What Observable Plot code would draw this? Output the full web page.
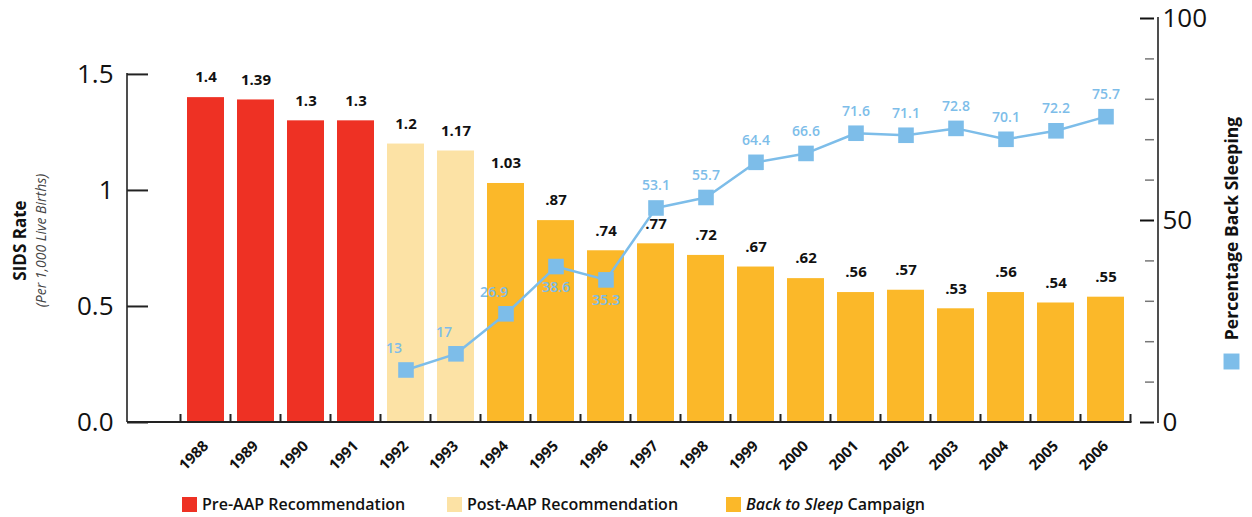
<!DOCTYPE html>
<html>
<head>
<meta charset="utf-8">
<script src="https://cdn.jsdelivr.net/npm/d3@7"></script>
<script src="https://cdn.jsdelivr.net/npm/@observablehq/plot@0.6"></script>
<style>
  html, body { margin: 0; padding: 0; background: #fff; }
  body { font-family: "Open Sans", sans-serif; width: 1252px; }
  #chart svg { display: block; }
  #legend { position: relative; height: 37px; width: 1252px; }
  .item { position: absolute; top: 17px; display: flex; align-items: center; font-size: 16px; font-weight: 600; color: #111; line-height: 15px; }
  .sw { width: 15px; height: 15px; margin-right: 5px; display: inline-block; }
</style>
</head>
<body>
<div id="chart"></div>
<div id="legend"></div>
<script>
// ---------- data ----------
const years = [1988, 1989, 1990, 1991, 1992, 1993, 1994, 1995, 1996, 1997, 1998, 1999, 2000, 2001, 2002, 2003, 2004, 2005, 2006];
const sidsRate = [1.4, 1.39, 1.3, 1.3, 1.2, 1.17, 1.03, 0.87, 0.74, 0.77, 0.72, 0.67, 0.62, 0.56, 0.57, 0.49, 0.56, 0.515, 0.54];
const sidsLabels = ["1.4", "1.39", "1.3", "1.3", "1.2", "1.17", "1.03", ".87", ".74", ".77", ".72", ".67", ".62", ".56", ".57", ".53", ".56", ".54", ".55"];
const phaseNames = ["Pre-AAP Recommendation", "Post-AAP Recommendation", "Back to Sleep Campaign"];
const phaseOfYear = [0, 0, 0, 0, 1, 1, 2, 2, 2, 2, 2, 2, 2, 2, 2, 2, 2, 2, 2];
const phaseColors = ["#ee3124", "#fce2a5", "#fbb829"];

const backYears = [1992, 1993, 1994, 1995, 1996, 1997, 1998, 1999, 2000, 2001, 2002, 2003, 2004, 2005, 2006];
const backPct = [13, 17, 26.9, 38.6, 35.3, 53.1, 55.7, 64.4, 66.6, 71.6, 71.1, 72.8, 70.1, 72.2, 75.7];
const backLabels = ["13", "17", "26.9", "38.6", "35.3", "53.1", "55.7", "64.4", "66.6", "71.6", "71.1", "72.8", "70.1", "72.2", "75.7"];
const backColor = "#7dbde9";

const leftTicks = [0, 0.5, 1, 1.5];
const leftTickLabels = ["0.0", "0.5", "1", "1.5"];
const rightMinorTicks = [10, 20, 30, 40, 60, 70, 80, 90];
const rightMajorTicks = [0, 50, 100];
const rightTickLabels = ["0", "50", "100"];

// ---------- layout ----------
const W = 1252, H = 480;
const mL = 127, mR = 94, mT = 18, yBase = 422;
const yMax = 1.741;           // left-scale value at the top of the frame
const K = yMax / 100;         // percent -> left-scale units

const rates = years.map((year, i) => ({year, rate: sidsRate[i], label: sidsLabels[i], phase: phaseNames[phaseOfYear[i]]}));
const back = backYears.map((year, i) => ({year, pct: backPct[i], label: backLabels[i]}));
const leftSide = new Set([1992, 1993, 1994]);
const belowSide = new Set([1995, 1996]);
const leftMap = new Map(leftTicks.map((t, i) => [t, leftTickLabels[i]]));
const rightMap = new Map(rightMajorTicks.map((t, i) => [t * K, rightTickLabels[i]]));

const font = "'Open Sans', sans-serif";
const blueText = {x: "year", y: d => d.pct * K, text: "label", fill: backColor, fontSize: 14, fontWeight: 600};

const chart = Plot.plot({
  width: W, height: H,
  marginTop: mT, marginBottom: H - yBase, marginLeft: mL, marginRight: mR,
  style: {fontFamily: font, background: "#fff", overflow: "visible", color: "#111"},
  x: {type: "band", domain: years, range: [177, 1133], paddingInner: 0.26, paddingOuter: 0.13, label: null},
  y: {domain: [0, yMax], label: null},
  color: {domain: phaseNames, range: phaseColors},
  marks: [
    Plot.barY(rates, {x: "year", y: "rate", fill: "phase"}),
    Plot.text(rates, {x: "year", y: "rate", text: "label", dy: -20, fontSize: 15, fontWeight: 700, fill: "#111"}),
    Plot.line(back, {x: "year", y: d => d.pct * K, stroke: backColor, strokeWidth: 2.5}),
    Plot.dot(back, {x: "year", y: d => d.pct * K, symbol: "square", r: 8.8, fill: backColor}),
    Plot.text(back.filter(d => leftSide.has(d.year)), {...blueText, dx: -12, dy: -21}),
    Plot.text(back.filter(d => belowSide.has(d.year)), {...blueText, dy: 21}),
    Plot.text(back.filter(d => !leftSide.has(d.year) && !belowSide.has(d.year)), {...blueText, dy: -22}),
    // left axis
    Plot.axisY({anchor: "left", ticks: leftTicks, tickSize: 21, dx: 21, tickFormat: () => "", stroke: "#222", strokeWidth: 2}),
    Plot.axisY({anchor: "left", ticks: leftTicks, tickSize: 0, tickPadding: 14, tickFormat: d => leftMap.get(d), fontSize: 26, fill: "#111"}),
    // right axis
    Plot.axisY({anchor: "right", ticks: rightMinorTicks.map(v => v * K), tickSize: 9, dx: -14, tickFormat: () => "", stroke: "#777", strokeWidth: 1.5}),
    Plot.axisY({anchor: "right", ticks: rightMajorTicks.map(v => v * K), tickSize: 14, dx: -19, tickFormat: () => "", stroke: "#111", strokeWidth: 2}),
    Plot.axisY({anchor: "right", ticks: rightMajorTicks.map(v => v * K), tickSize: 0, tickPadding: 4, tickFormat: d => rightMap.get(d), fontSize: 26, fill: "#111"}),
    // x axis labels
    Plot.axisX({anchor: "bottom", tickSize: 0, tickRotate: -45, tickPadding: 21, tickFormat: d => String(d), fontSize: 15, fontWeight: 700, fill: "#111"}),
    // axis titles
    Plot.text(["SIDS Rate"], {text: d => d, frameAnchor: "left", textAnchor: "middle", dx: -107, dy: 20, rotate: -90, fontSize: 17, fontWeight: 700, fill: "#111"}),
    Plot.text(["(Per 1,000 Live Births)"], {text: d => d, frameAnchor: "left", textAnchor: "middle", dx: -86, dy: 20, rotate: -90, fontSize: 14, fontStyle: "italic", fill: "#444"}),
    Plot.text(["Percentage Back Sleeping"], {text: d => d, frameAnchor: "right", textAnchor: "middle", dx: 74, dy: 8, rotate: -90, fontSize: 17.5, fontWeight: 700, fill: "#111"}),
    Plot.dot([0], {frameAnchor: "right", dx: 73, dy: 141, symbol: "square", r: 9, fill: backColor})
  ]
});
document.getElementById("chart").appendChild(chart);

// axis lines and band-edge ticks drawn from the plot's own scales
const xs = chart.scale("x"), ys = chart.scale("y");
const svg = d3.select(chart);
const g = svg.append("g").attr("stroke", "#222").attr("fill", "none");
const y0 = ys.apply(0);
const step = xs.step ?? ((xs.range[1] - xs.range[0]) / years.length);
const bw = xs.bandwidth ?? step * 0.74;
const edges = years.map(y => xs.apply(y) - (step - bw) / 2);
edges.push(edges[edges.length - 1] + step);
g.append("line").attr("x1", mL).attr("x2", mL).attr("y1", ys.apply(1.5) - 1).attr("y2", y0).attr("stroke-width", 1.6);
g.append("line").attr("x1", W - mR).attr("x2", W - mR).attr("y1", ys.apply(100 * K) - 1).attr("y2", y0 + 1).attr("stroke-width", 1.6);
g.append("line").attr("x1", mL).attr("x2", edges[edges.length - 1] + 1).attr("y1", y0).attr("y2", y0).attr("stroke-width", 2);
edges.forEach(e => g.append("line").attr("x1", e).attr("x2", e).attr("y1", y0).attr("y2", y0 - 8).attr("stroke-width", 2));

// legend
const legendLeft = [182, 447, 726];
const legendHTML = ["Pre-AAP Recommendation", "Post-AAP Recommendation", "<i>Back to Sleep</i> Campaign"];
const legend = document.getElementById("legend");
phaseNames.forEach((name, i) => {
  const item = document.createElement("div");
  item.className = "item";
  item.style.left = legendLeft[i] + "px";
  item.innerHTML = `<span class="sw" style="background:${phaseColors[i]}"></span><span>${legendHTML[i]}</span>`;
  legend.appendChild(item);
});
</script>
</body>
</html>
